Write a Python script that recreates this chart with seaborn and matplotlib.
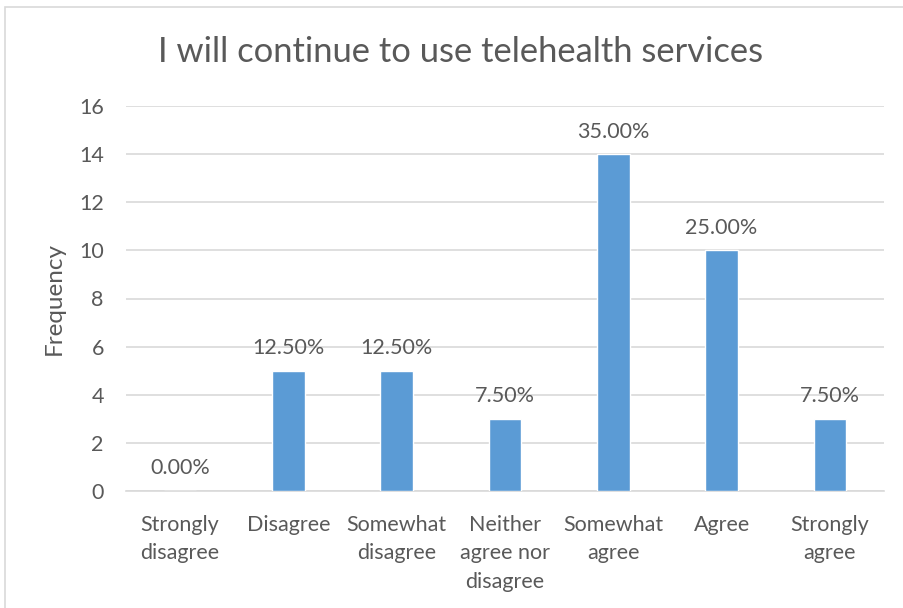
import matplotlib
matplotlib.use("Agg")
import matplotlib.pyplot as plt
import matplotlib.patches as mpatches
import seaborn as sns
import pandas as pd

categories = ["Strongly\ndisagree", "Disagree", "Somewhat\ndisagree",
              "Neither\nagree nor\ndisagree", "Somewhat\nagree", "Agree",
              "Strongly\nagree"]
frequency = [0, 5, 5, 3, 14, 10, 3]
percent_labels = ["0.00%", "12.50%", "12.50%", "7.50%", "35.00%", "25.00%", "7.50%"]
y_ticks = [0, 2, 4, 6, 8, 10, 12, 14, 16]

sns.set_style("white")
plt.rcParams["font.family"] = ["Lato", "DejaVu Sans"]

text_color = "#595959"
grid_color = "#D9D9D9"
bar_color = "#5B9BD5"

df = pd.DataFrame({"response": categories, "frequency": frequency})

fig = plt.figure(figsize=(9.04, 6.08), dpi=100)
ax = fig.add_axes([126 / 904, 1 - 491 / 608, (884 - 126) / 904, (491 - 106) / 608])

sns.barplot(data=df, x="response", y="frequency", color=bar_color,
            saturation=1, width=0.3, ax=ax, zorder=3)

ax.set_ylim(0, 16)
ax.set_xlim(-0.5, len(categories) - 0.5)
ax.set_yticks(y_ticks)
ax.set_yticklabels([str(t) for t in y_ticks])
ax.yaxis.grid(True, color=grid_color, linewidth=1.2, zorder=0)
ax.set_axisbelow(True)
for side in ["top", "right", "left"]:
    ax.spines[side].set_visible(False)
ax.spines["bottom"].set_color(grid_color)
ax.spines["bottom"].set_linewidth(1.2)
ax.tick_params(axis="both", length=0, colors=text_color, labelsize=15.5)
ax.tick_params(axis="y", pad=16)
ax.tick_params(axis="x", pad=17)
for lbl in ax.get_xticklabels():
    lbl.set_linespacing(1.55)

ax.set_xlabel("")
ax.set_ylabel("Frequency", fontsize=17.5, color=text_color, labelpad=10)

for i, (v, lab) in enumerate(zip(frequency, percent_labels)):
    ax.annotate(lab, (i, v), xytext=(0, 9), textcoords="offset points",
                ha="center", va="bottom", fontsize=15.5, color=text_color)

fig.text(461 / 904, 1 - 52 / 608,
         "I will continue to use telehealth services",
         ha="center", va="center", fontsize=24.8, color=text_color)

fig.patches.append(mpatches.Rectangle((5 / 904, -0.1), 1.2, 1 - 7 / 608 + 0.1,
                                      transform=fig.transFigure, fill=False,
                                      edgecolor="#D9D9D9", linewidth=1.2))

fig.savefig("out.png", dpi=100)
